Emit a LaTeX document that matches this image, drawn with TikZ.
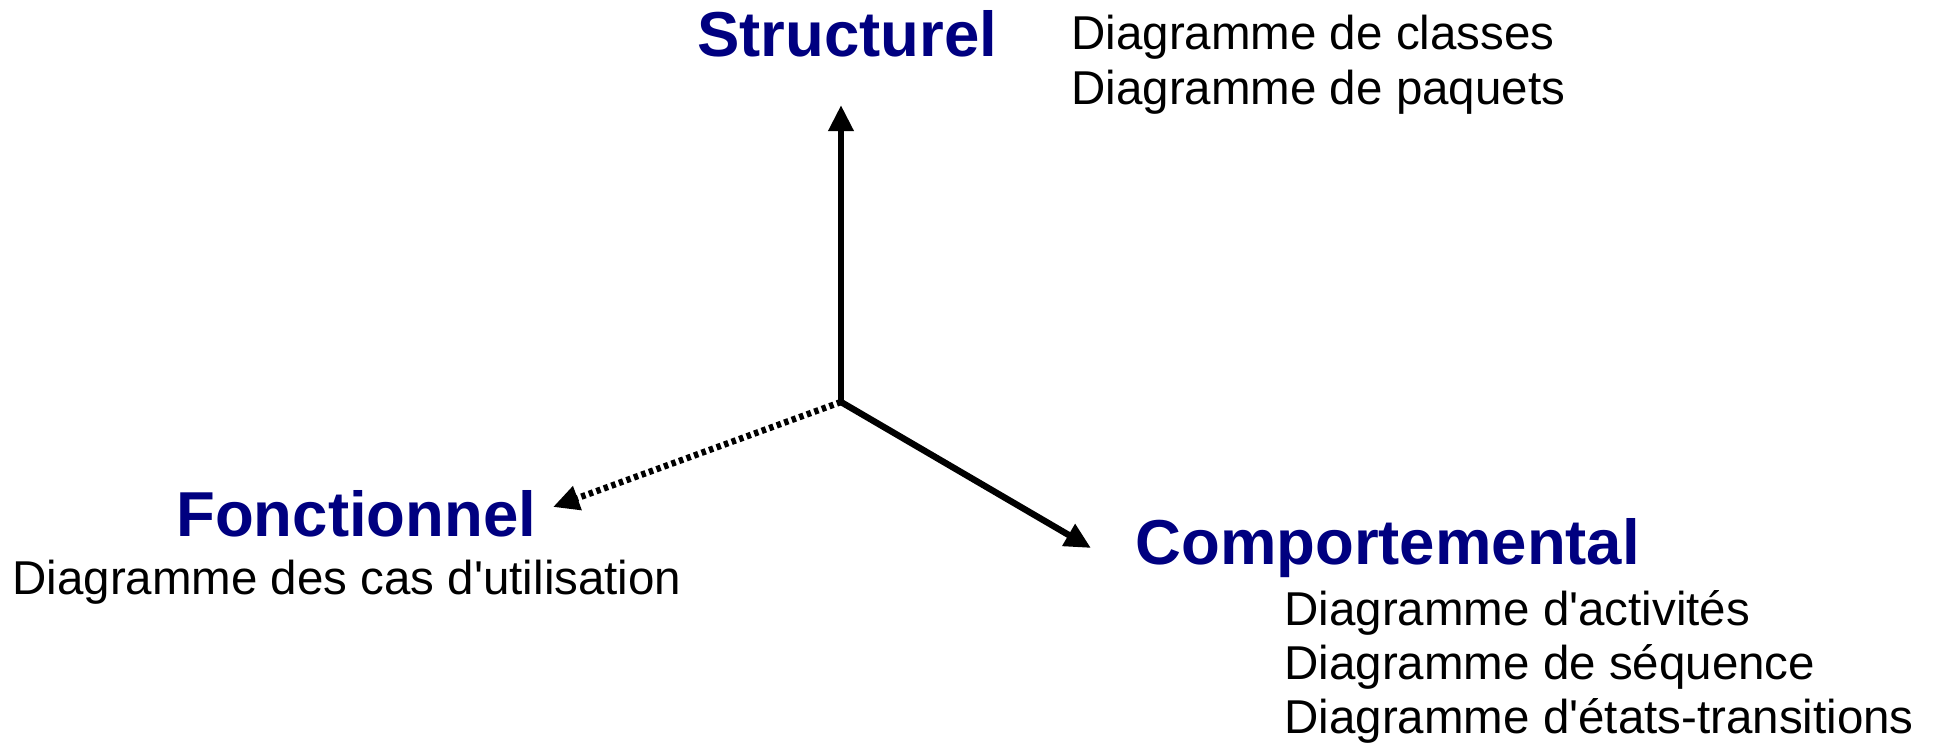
\documentclass[tikz,border=0pt]{standalone}
\usepackage{fontspec}
\setmainfont{Liberation Sans}[Ligatures=TeXOff]
\usetikzlibrary{arrows.meta}
\definecolor{navyblue}{RGB}{0,0,128}
\begin{document}
\begin{tikzpicture}[x=0.5pt,y=-0.5pt,
  headtext/.style={font=\fontsize{31.75}{38}\selectfont\bfseries, text=navyblue, inner sep=0pt, anchor=base west},
  itemtext/.style={font=\fontsize{23.75}{28}\selectfont, text=black, inner sep=0pt, anchor=base west},
  axis/.style={line width=3.2pt, -{Triangle[length=13pt,width=12pt]}},
  dottedaxis/.style={axis, dash pattern=on 2.2pt off 1.8pt}
]
\useasboundingbox (0,0) rectangle (1940,745);
% texts
\node[headtext] (struct) at (697,56) {Structurel};
\node[itemtext] (s1) at (1071,49) {Diagramme de classes};
\node[itemtext] (s2) at (1071,104) {Diagramme de paquets};
\node[headtext] (fonc) at (176,536) {Fonctionnel};
\node[itemtext] (f1) at (12,594) {Diagramme des cas d'utilisation};
\node[headtext] (comp) at (1135,564) {Comportemental};
\node[itemtext] (c1) at (1284,625) {Diagramme d'activités};
\node[itemtext] (c2) at (1284,679) {Diagramme de séquence};
\node[itemtext] (c3) at (1284,733) {Diagramme d'états-transitions};
% axes
\coordinate (o) at (841,402);
\coordinate (up) at (841,105);
\coordinate (left) at (553,507);
\coordinate (right) at (1091,548);
\draw[axis] (o) -- (up);
\draw[axis] (o) -- (right);
\draw[dottedaxis] (o) -- (left);
\end{tikzpicture}
\end{document}
